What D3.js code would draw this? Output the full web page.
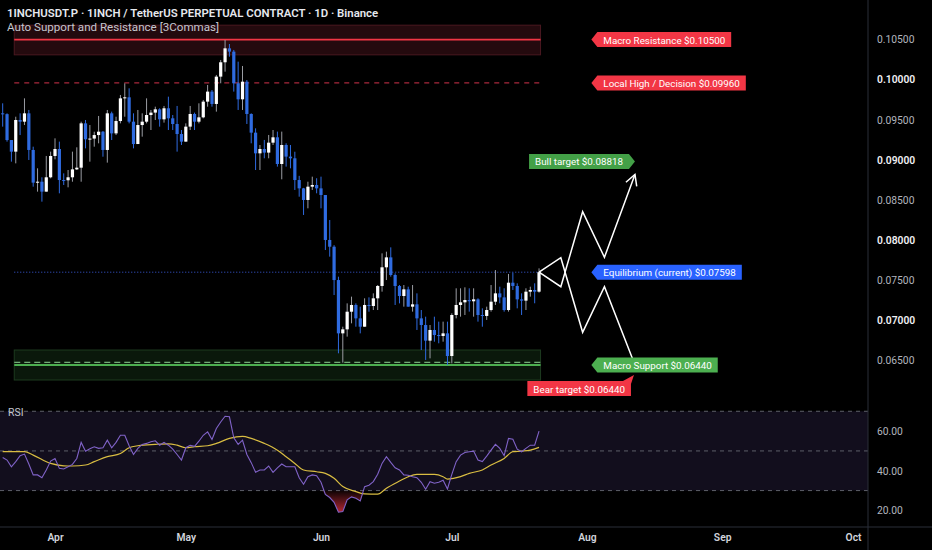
<!DOCTYPE html>
<html>
<head>
<meta charset="utf-8">
<script src="https://cdn.jsdelivr.net/npm/d3@7"></script>
<style>
  html, body { margin: 0; padding: 0; background: #000; }
  svg { display: block; font-family: Roboto, "Open Sans", sans-serif; }
</style>
</head>
<body>
<svg id="chart" width="932" height="550"></svg>
<script>
// ---- data ----
const firstDate = "2025-03-20";
const firstOpen = 0.0958;

const closes = [
  0.0957, 0.09247, 0.09102, 0.09497, 0.09476, 0.0958, 0.09123, 0.08715, 0.08727, 0.08603,
  0.08782, 0.09048, 0.09135, 0.08748, 0.08745, 0.08782, 0.08881, 0.08902, 0.09455, 0.09256,
  0.09265, 0.09309, 0.09351, 0.09123, 0.0958, 0.0933, 0.09484, 0.09767, 0.0978, 0.09476,
  0.09197, 0.09434, 0.09476, 0.09559, 0.09589, 0.0963, 0.09505, 0.09643, 0.09518, 0.09447,
  0.09322, 0.09227, 0.09414, 0.09572, 0.09476, 0.0953, 0.09726, 0.09851, 0.09697, 0.10038,
  0.10217, 0.10391, 0.1035, 0.09955, 0.09755, 0.09975, 0.09572, 0.09339, 0.09081, 0.09135,
  0.0909, 0.09214, 0.09281, 0.08948, 0.09185, 0.0904, 0.09019, 0.08748, 0.08644, 0.08499,
  0.08665, 0.08686, 0.08644, 0.08561, 0.08, 0.07916, 0.075, 0.06835, 0.06885, 0.07105,
  0.07189, 0.07022, 0.06918, 0.07189, 0.07176, 0.07272, 0.07426, 0.07659, 0.07783, 0.07563,
  0.07426, 0.07301, 0.07384, 0.07168, 0.07197, 0.07022, 0.06939, 0.06744, 0.06877, 0.06814,
  0.06802, 0.06835, 0.06552, 0.07064, 0.07189, 0.07222, 0.07251, 0.07235, 0.07259, 0.07064,
  0.07052, 0.07126, 0.0723, 0.07334, 0.07284, 0.07126, 0.07467, 0.07426, 0.07259, 0.07243,
  0.07355, 0.07376, 0.07355, 0.07598
];
const highs = [
  0.09705, 0.0958, 0.09247, 0.09538, 0.0958, 0.09767, 0.09622, 0.09164, 0.08894, 0.08782,
  0.09048, 0.09102, 0.09268, 0.09227, 0.08831, 0.08873, 0.09102, 0.09156, 0.09476, 0.09497,
  0.09434, 0.09351, 0.09547, 0.0936, 0.09622, 0.09601, 0.09538, 0.09809, 0.09954, 0.09892,
  0.0958, 0.09622, 0.0958, 0.09767, 0.09622, 0.09663, 0.09643, 0.09672, 0.09788, 0.09559,
  0.09672, 0.09372, 0.09455, 0.09672, 0.09589, 0.09705, 0.09747, 0.09934, 0.09871, 0.10059,
  0.10246, 0.10495, 0.10445, 0.10371, 0.10225, 0.10171, 0.09996, 0.0958, 0.09393, 0.09185,
  0.09248, 0.0931, 0.09372, 0.09352, 0.09352, 0.09206, 0.09185, 0.09101, 0.088, 0.0865,
  0.08727, 0.0879, 0.0877, 0.0879, 0.0856, 0.08249, 0.07935, 0.07542, 0.06918, 0.07209,
  0.07293, 0.07209, 0.07168, 0.07272, 0.07284, 0.07334, 0.07438, 0.07833, 0.07854, 0.07908,
  0.07584, 0.07438, 0.07438, 0.07417, 0.07438, 0.07334, 0.07126, 0.07043, 0.06939, 0.07043,
  0.06981, 0.06981, 0.06981, 0.07085, 0.07397, 0.07397, 0.07409, 0.07397, 0.07397, 0.07272,
  0.07147, 0.07168, 0.07438, 0.07625, 0.07417, 0.07397, 0.07576, 0.07592, 0.07459, 0.07334,
  0.07397, 0.07417, 0.07459, 0.07646
];
const lows = [
  0.09414, 0.09227, 0.08977, 0.08956, 0.09309, 0.09434, 0.08998, 0.08665, 0.08603, 0.08478,
  0.08603, 0.08769, 0.09006, 0.08582, 0.08686, 0.08657, 0.08727, 0.08873, 0.08727, 0.09143,
  0.08977, 0.09164, 0.09206, 0.09039, 0.08965, 0.09247, 0.09309, 0.09455, 0.09538, 0.09455,
  0.09143, 0.09197, 0.09289, 0.09455, 0.09372, 0.09497, 0.09414, 0.09464, 0.09372, 0.09372,
  0.09102, 0.09185, 0.09227, 0.09372, 0.09372, 0.09455, 0.09518, 0.09663, 0.09663, 0.09601,
  0.09955, 0.1010, 0.10287, 0.09851, 0.09622, 0.09622, 0.09447, 0.09206, 0.08873, 0.08873,
  0.09019, 0.09019, 0.09185, 0.08915, 0.08757, 0.08915, 0.08894, 0.08624, 0.0854, 0.08312,
  0.08395, 0.08624, 0.08582, 0.08395, 0.07875, 0.07792, 0.07313, 0.06586, 0.06469, 0.06794,
  0.0696, 0.06918, 0.06835, 0.06918, 0.07105, 0.07126, 0.07126, 0.07355, 0.075, 0.07542,
  0.07189, 0.07209, 0.07168, 0.07168, 0.07106, 0.06877, 0.06627, 0.06503, 0.06523, 0.06731,
  0.06711, 0.06731, 0.0644, 0.06461, 0.07022, 0.07043, 0.07064, 0.07106, 0.07043, 0.06981,
  0.06918, 0.07002, 0.07106, 0.07189, 0.0721, 0.07106, 0.07106, 0.07376, 0.07147, 0.07064,
  0.07126, 0.07293, 0.0721, 0.07343
];

const rsiValues = [
  46.7, 45.4, 42.0, 44.6, 47.6, 48.4, 43.4, 37.9, 37.9, 36.5,
  40.4, 44.9, 46.2, 41.2, 40.9, 42.0, 43.2, 46.2, 54.3, 49.9,
  51.1, 52.1, 51.3, 51.6, 55.4, 51.6, 54.3, 57.9, 57.9, 52.6,
  48.2, 51.3, 53.3, 53.8, 54.6, 55.1, 52.9, 54.3, 52.9, 50.9,
  48.2, 45.4, 51.6, 52.8, 52.3, 54.9, 57.9, 59.6, 55.8, 61.3,
  64.6, 67.5, 67.2, 56.6, 53.3, 55.4, 48.2, 44.1, 39.2, 40.4,
  40.4, 42.4, 39.2, 41.5, 43.4, 42.0, 42.0, 42.0, 36.5, 33.2,
  37.0, 37.9, 37.5, 34.2, 28.1, 26.5, 24.1, 19.1, 19.4, 25.3,
  26.8, 26.1, 24.8, 32.0, 32.7, 34.5, 38.2, 43.7, 47.1, 44.2,
  41.5, 40.4, 37.9, 37.7, 37.0, 36.5, 34.2, 30.7, 34.5, 33.7,
  34.2, 35.2, 30.8, 38.2, 44.6, 47.9, 49.2, 49.6, 49.9, 45.4,
  44.6, 47.4, 50.4, 53.3, 51.3, 47.6, 56.3, 55.9, 50.9, 49.6,
  51.3, 52.9, 52.9, 60.0
];
const rsiMaIdx = [0, 5, 7, 11, 14, 16, 19, 21, 24, 27, 29, 31, 35, 38, 40, 42, 44, 47, 49, 52,
  55, 57, 60, 63, 65, 67, 69, 72, 74, 76, 78, 81, 83, 86, 88, 91, 93, 95, 99, 101,
  102, 105, 107, 110, 112, 115, 117, 119, 121, 123];
const rsiMaValues = [49.6, 49.6, 47.9, 43.7, 42.5, 42.4, 42.9, 44.6, 47.1, 48.7, 51.6, 52.6, 53.3, 53.6, 52.9, 51.6, 52.1, 52.6, 53.8, 56.3,
  57.3, 56.3, 53.8, 50.4, 47.1, 43.7, 40.4, 39.5, 38.7, 36.2, 32.0, 29.5, 28.3, 28.2, 31.2, 34.8, 37.0, 38.2, 38.2, 37.0,
  35.8, 37.0, 38.7, 40.4, 42.9, 46.2, 49.6, 49.9, 50.4, 51.8];

const monthTicks = ["2025-04-01", "2025-05-01", "2025-06-01", "2025-07-01", "2025-08-01", "2025-09-01", "2025-10-01"];
const priceTicks = [0.105, 0.10, 0.095, 0.09, 0.085, 0.08, 0.075, 0.07, 0.065];
const boldPriceTicks = [0.10, 0.09, 0.08, 0.07];
const rsiTicks = [60, 40, 20];
const rsiLevels = [70, 50, 30];

const resistance = 0.105;
const resistanceZone = [0.1031, 0.1068];
const localHigh = 0.0996;
const equilibrium = 0.07598;
const support = 0.0644;
const supportInner = 0.06474;
const supportZone = [0.06253, 0.06627];
const zoneStartIdx = 3;

const bullPathIdx = [123, 128, 133, 138, 145];
const bullPathPrice = [0.07598, 0.07417, 0.08353, 0.07784, 0.08818];
const bearPathIdx = [123, 128, 133, 138, 145];
const bearPathPrice = [0.07598, 0.07779, 0.06848, 0.07417, 0.0644];

const sideLabels = ["Macro Resistance $0.10500", "Local High / Decision $0.09960",
  "Equilibrium (current) $0.07598", "Macro Support $0.06440"];
const sideLabelPrices = [0.105, 0.0996, 0.07598, 0.0644];
const sideLabelColors = ["#f23645", "#f23645", "#2962ff", "#4caf50"];
const sideLabelIdx = 135;

// ---- layout ----
const W = 932, H = 550;
const axisX = 868;
const start = new Date(firstDate);
const dayOf = i => d3.utcDay.offset(start, i);

const x = d3.scaleUtc()
  .domain([new Date(monthTicks[0]), new Date(monthTicks[6])])
  .range([55, 853]);
const y = d3.scaleLinear().domain([0.065, 0.105]).range([360.2, 39.6]);
const yR = d3.scaleLinear().domain([20, 60]).range([510.4, 431.1]);
const xi = i => x(dayOf(i));

const candles = closes.map((c, i) => ({
  i, close: c, high: highs[i], low: lows[i],
  open: i === 0 ? firstOpen : closes[i - 1]
}));

const svg = d3.select("#chart");
svg.append("rect").attr("width", W).attr("height", H).attr("fill", "#000");

// zones
const zx0 = xi(zoneStartIdx) - 1.5, zx1 = xi(closes.length - 1) + 1.5;
svg.append("rect")
  .attr("x", zx0).attr("width", zx1 - zx0)
  .attr("y", y(resistanceZone[1])).attr("height", y(resistanceZone[0]) - y(resistanceZone[1]))
  .attr("fill", "#240a0e").attr("stroke", "#4a1820").attr("stroke-width", 1);
svg.append("rect")
  .attr("x", zx0).attr("width", zx1 - zx0)
  .attr("y", y(supportZone[1])).attr("height", y(supportZone[0]) - y(supportZone[1]))
  .attr("fill", "#0a180b").attr("stroke", "#1d3a1f").attr("stroke-width", 1);

const hline = (p, color, w, dash) => svg.append("line")
  .attr("x1", zx0).attr("x2", zx1).attr("y1", y(p)).attr("y2", y(p))
  .attr("stroke", color).attr("stroke-width", w)
  .attr("stroke-dasharray", dash || null);

hline(resistance, "#f23645", 1.6);
hline(localHigh, "#a8283d", 1.3, "5,5");
hline(equilibrium, "#3b5bdb", 1, "1,2");
hline(supportInner, "#8fd694", 1, "6,4");
hline(support, "#4caf50", 1.8);

// titles (drawn over the zones)
svg.append("text").attr("x", 7).attr("y", 17)
  .attr("fill", "#e6e8ee").attr("font-size", 11.4).attr("font-weight", 600)
  .text("1INCHUSDT.P · 1INCH / TetherUS PERPETUAL CONTRACT · 1D · Binance");
svg.append("text").attr("x", 7).attr("y", 31)
  .attr("fill", "#c3c6cf").attr("font-size", 11.6)
  .text("Auto Support and Resistance [3Commas]");

// candles
const up = d => d.close >= d.open;
const cg = svg.append("g");
cg.selectAll("line").data(candles).join("line")
  .attr("x1", d => xi(d.i)).attr("x2", d => xi(d.i))
  .attr("y1", d => y(Math.max(d.high, d.open, d.close)))
  .attr("y2", d => y(Math.min(d.low, d.open, d.close)))
  .attr("stroke", d => up(d) ? "#9a9ca3" : "#2f6be0")
  .attr("stroke-width", 1);
cg.selectAll("rect").data(candles).join("rect")
  .attr("x", d => xi(d.i) - 1.6).attr("width", 3.2)
  .attr("y", d => y(Math.max(d.open, d.close)))
  .attr("height", d => Math.max(1, Math.abs(y(d.open) - y(d.close))))
  .attr("fill", d => up(d) ? "#ffffff" : "#2f6be0");

// projection zigzag
const zig = d3.line().x(d => xi(d[0])).y(d => y(d[1]));
const bull = bullPathIdx.map((v, k) => [v, bullPathPrice[k]]);
const bear = bearPathIdx.map((v, k) => [v, bearPathPrice[k]]);
[bull, bear].forEach(p => svg.append("path").attr("d", zig(p))
  .attr("fill", "none").attr("stroke", "#fff").attr("stroke-width", 1.5)
  .attr("stroke-linejoin", "miter"));
{
  const a = bull[bull.length - 2], b = bull[bull.length - 1];
  const ax = xi(a[0]), ay = y(a[1]), bx = xi(b[0]), by = y(b[1]);
  const ang = Math.atan2(by - ay, bx - ax), L = 12, s = 0.5;
  const p1 = [bx - L * Math.cos(ang - s), by - L * Math.sin(ang - s)];
  const p2 = [bx - L * Math.cos(ang + s), by - L * Math.sin(ang + s)];
  svg.append("path").attr("d", `M${p1}L${bx},${by}L${p2}`)
    .attr("fill", "none").attr("stroke", "#fff").attr("stroke-width", 1.5);
}

// labels
const LH = 15, PAD = 6, TIP = 6;
function label(text, color, opts) {
  const g = svg.append("g");
  const t = g.append("text").attr("font-size", 9.8).attr("fill", "#fff")
    .attr("dominant-baseline", "central").text(text);
  const tw = t.node().getComputedTextLength();
  const w = tw + 2 * PAD;
  let bx, by;
  if (opts.side === "left") {         // pointer on the left
    bx = opts.x + TIP; by = opts.cy - LH / 2;
    g.insert("path", "text").attr("fill", color)
      .attr("d", `M${opts.x},${opts.cy}L${bx},${by}H${bx + w}V${by + LH}H${bx}Z`);
  } else if (opts.side === "right") { // pointer on the right
    bx = opts.x - TIP - w; by = opts.cy - LH / 2;
    g.insert("path", "text").attr("fill", color)
      .attr("d", `M${bx},${by}H${bx + w}L${opts.x},${opts.cy}L${bx + w},${by + LH}H${bx}Z`);
  } else {                            // notch at top right
    bx = opts.x - w; by = opts.top;
    g.insert("path", "text").attr("fill", color)
      .attr("d", `M${bx},${by}H${bx + w - 8}L${bx + w + 3},${by - 6}L${bx + w},${by + 3}V${by + LH}H${bx}Z`);
  }
  t.attr("x", bx + PAD).attr("y", by + LH / 2 + 0.5);
}
sideLabels.forEach((s, k) => label(s, sideLabelColors[k],
  {side: "left", x: xi(sideLabelIdx), cy: y(sideLabelPrices[k])}));
label("Bull target $0.08818", "#43a047",
  {side: "right", x: xi(bullPathIdx[4]), cy: y(bullPathPrice[4]) - 13});
label("Bear target $0.06440", "#f23645",
  {side: "notch", x: xi(bearPathIdx[4]) - 4, top: y(bearPathPrice[4]) + 16});

// RSI pane
svg.append("rect").attr("x", 0).attr("width", axisX)
  .attr("y", yR(70)).attr("height", yR(30) - yR(70)).attr("fill", "#120e1d");
rsiLevels.forEach(v => svg.append("line")
  .attr("x1", 0).attr("x2", axisX).attr("y1", yR(v)).attr("y2", yR(v))
  .attr("stroke", "#5d5f68").attr("stroke-dasharray", "4,4"));

const defs = svg.append("defs");
const grad = defs.append("linearGradient").attr("id", "os")
  .attr("gradientUnits", "userSpaceOnUse")
  .attr("x1", 0).attr("x2", 0).attr("y1", yR(30)).attr("y2", yR(19));
grad.append("stop").attr("offset", 0).attr("stop-color", "#f23645").attr("stop-opacity", 0.05);
grad.append("stop").attr("offset", 1).attr("stop-color", "#f23645").attr("stop-opacity", 0.75);
svg.append("path").datum(rsiValues)
  .attr("d", d3.area().x((d, i) => xi(i)).y0(yR(30)).y1(d => yR(Math.min(d, 30))))
  .attr("fill", "url(#os)");

svg.append("path").datum(rsiMaIdx.map((v, k) => [v, rsiMaValues[k]]))
  .attr("d", d3.line().x(d => xi(d[0])).y(d => yR(d[1])).curve(d3.curveMonotoneX))
  .attr("fill", "none").attr("stroke", "#d9bd42").attr("stroke-width", 1.2);
svg.append("path").datum(rsiValues)
  .attr("d", d3.line().x((d, i) => xi(i)).y(d => yR(d)))
  .attr("fill", "none").attr("stroke", "#8063c8").attr("stroke-width", 1.1);

svg.append("text").attr("x", 8).attr("y", 416).attr("fill", "#c3c6cf")
  .attr("font-size", 10.5).text("RSI");

// separators
svg.append("line").attr("x1", axisX).attr("x2", axisX).attr("y1", 0).attr("y2", H)
  .attr("stroke", "#2a2e39");
svg.append("line").attr("x1", 0).attr("x2", W).attr("y1", 527).attr("y2", 527)
  .attr("stroke", "#2a2e39");

// axes
const pAxis = svg.append("g").attr("transform", `translate(${axisX},0)`)
  .call(d3.axisRight(y).tickValues(priceTicks).tickFormat(d3.format(".5f")).tickSize(0).tickPadding(9));
const rAxis = svg.append("g").attr("transform", `translate(${axisX},0)`)
  .call(d3.axisRight(yR).tickValues(rsiTicks).tickFormat(d3.format(".2f")).tickSize(0).tickPadding(9));
const xAxis = svg.append("g").attr("transform", "translate(0,534)")
  .call(d3.axisBottom(x).tickValues(monthTicks.map(s => new Date(s)))
    .tickFormat(d3.utcFormat("%b")).tickSize(0).tickPadding(0));

[pAxis, rAxis, xAxis].forEach(a => {
  a.select(".domain").remove();
  a.selectAll("text").attr("font-family", "Roboto, sans-serif").attr("font-size", 10.3)
    .attr("fill", "#b2b5be");
});
pAxis.selectAll("text")
  .filter(d => boldPriceTicks.includes(d))
  .attr("fill", "#f0f1f4").attr("font-weight", 600);
xAxis.selectAll("text").attr("fill", "#d1d4dc").attr("font-weight", 600);
</script>
</body>
</html>
